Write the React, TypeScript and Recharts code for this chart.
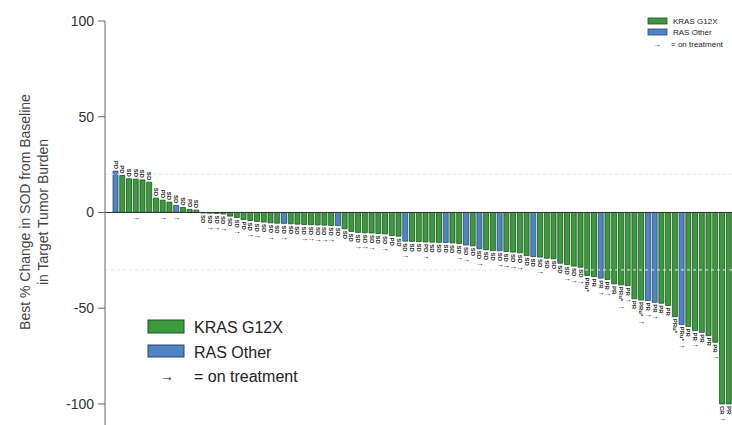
import { Bar, BarChart, Cell, LabelList, ReferenceLine, XAxis, YAxis } from 'recharts'

// best % change per patient, sorted (waterfall)
const changes = [
  21.6, 19.3, 17.6, 17.4, 17.0, 15.8, 7.5, 6.4, 5.4, 3.7, 2.6, 1.6, 1.2,
  -0.3, -0.4, -0.5, -0.8, -1.9, -2.6, -3.7, -4.2, -4.7, -5.0, -5.4, -5.6, -5.7,
  -5.9, -6.1, -6.3, -6.4, -6.5, -6.6, -6.8, -6.9, -8.5, -9.9, -10.4, -10.6,
  -10.7, -11.0, -11.2, -12.0, -12.4, -15.0, -15.1, -15.2, -15.4, -15.5, -15.6,
  -15.7, -15.9, -16.2, -17.0, -17.4, -19.0, -19.5, -19.9, -20.0, -20.4, -20.7,
  -21.1, -22.5, -23.0, -23.3, -23.9, -24.2, -26.5, -27.2, -28.0, -28.6, -32.9,
  -33.5, -34.3, -35.0, -37.3, -37.8, -38.2, -45.1, -45.7, -46.0, -46.9, -47.4,
  -48.6, -54.4, -58.5, -59.5, -61.7, -62.6, -64.3, -67.8, -100, -100,
]

// K = KRAS G12X, R = RAS Other
const groups =
  'RKKKKKKKKRKKKKKKKKKKKKKKKRKKKKKKKRKKKKKKKKKRKKKKKRKKRKRKKRKKKKRKKKKKKKKKRKKKKKKRRKKKRKKKKKKK'

const responses = [
  'PD', 'PD', 'SD', 'SD', 'SD', 'SD', 'SD', 'PD', 'SD', 'SD', 'SD', 'PD', 'SD',
  'SD', 'SD', 'SD', 'SD', 'SD', 'SD', 'PD', 'SD', 'SD', 'SD', 'SD', 'SD', 'SD',
  'SD', 'SD', 'SD', 'SD', 'SD', 'SD', 'SD', 'SD', 'SD', 'SD', 'SD', 'SD', 'SD',
  'SD', 'SD', 'PD', 'SD', 'SD', 'SD', 'SD', 'PD', 'SD', 'SD', 'SD', 'SD', 'SD',
  'SD', 'SD', 'SD', 'SD', 'SD', 'SD', 'SD', 'SD', 'SD', 'SD', 'SD', 'SD', 'SD',
  'SD', 'SD', 'SD', 'SD', 'SD', 'PRu*', 'PR', 'PR', 'PR', 'PR', 'PRu*', 'PR',
  'PR', 'PRu*', 'PR', 'PR', 'PR', 'PR', 'PRu*', 'PRu*', 'PR', 'PR', 'PR', 'PR',
  'PR', 'CR', 'PR',
]

// patients still on treatment (arrow)
const onTreatment = [
  3, 7, 9, 14, 15, 16, 18, 20, 21, 23, 25, 28, 29, 30, 31, 32, 36, 37, 38, 40,
  43, 46, 51, 52, 54, 57, 58, 59, 60, 63, 67, 68, 69, 72, 73, 75, 76, 78, 79,
  80, 84, 86, 89, 90,
]

const yTicks = [-100, -50, 0, 50, 100]

const GREEN = '#3b9a3e'
const GREEN_EDGE = '#1f5122'
const BLUE = '#5085c4'
const BLUE_EDGE = '#29476d'

const rows = changes.map((value, i) => ({
  id: i + 1,
  value,
  group: groups[i],
  tag: `${responses[i]}|${onTreatment.includes(i) ? 1 : 0}|${value < 0 ? 1 : 0}`,
}))

function Tag(props: any) {
  const { x, y, width, height, value } = props
  if (value == null) return null
  const [text, arrow, neg] = String(value).split('|')
  const cx = x + width / 2
  const top = Math.min(y, y + height)
  const bottom = Math.max(y, y + height)
  const style = { fontSize: 6, fontWeight: 700, fill: '#222', fontFamily: 'Liberation Sans, Arial, sans-serif' }
  const arrowStyle = { ...style, fontSize: 8, fontWeight: 400 }
  if (neg === '1') {
    const len = text.length * 3.6
    return (
      <g>
        <text transform={`translate(${cx},${bottom + 2}) rotate(90)`} textAnchor="start" dominantBaseline="central" style={style}>
          {text}
        </text>
        {arrow === '1' && (
          <text x={cx} y={bottom + len + 7} textAnchor="middle" dominantBaseline="central" style={arrowStyle}>
            →
          </text>
        )}
      </g>
    )
  }
  return (
    <g>
      <text transform={`translate(${cx},${top - 2}) rotate(90)`} textAnchor="end" dominantBaseline="central" style={style}>
        {text}
      </text>
      {arrow === '1' && (
        <text x={cx} y={bottom + 5} textAnchor="middle" dominantBaseline="central" style={arrowStyle}>
          →
        </text>
      )}
    </g>
  )
}

function AxisTitle() {
  const style = { fontSize: 14, fill: '#444', fontFamily: 'Liberation Sans, Arial, sans-serif' }
  return (
    <g>
      <text transform="translate(25,212) rotate(-90)" textAnchor="middle" dominantBaseline="central" style={style}>
        Best % Change in SOD from Baseline
      </text>
      <text transform="translate(43,212) rotate(-90)" textAnchor="middle" dominantBaseline="central" style={style}>
        in Target Tumor Burden
      </text>
    </g>
  )
}

export default function App() {
  return (
    <div
      style={{
        position: 'absolute',
        left: 0,
        top: 0,
        width: 732,
        height: 425,
        background: '#fff',
        fontFamily: 'Liberation Sans, Arial, sans-serif',
      }}
    >
      <BarChart
        width={732}
        height={425}
        data={rows}
        margin={{ top: 21, right: 0, bottom: 0, left: 0 }}
        barSize={5}
      >
        <XAxis dataKey="id" hide padding={{ left: 7, right: 0 }} />
        <YAxis
          domain={[-111, 100]}
          ticks={yTicks}
          width={105}
          tickSize={7}
          tickMargin={4}
          axisLine={{ stroke: '#666' }}
          tickLine={{ stroke: '#666' }}
          tick={{ fontSize: 14, fill: '#333' }}
          label={{ content: () => <AxisTitle /> }}
        />
        <ReferenceLine y={20} stroke="#e2e2e2" strokeDasharray="3 3" />
        <ReferenceLine y={-30} stroke="#e8e8e8" strokeDasharray="3 3" />
        <Bar dataKey="value" isAnimationActive={false} strokeWidth={0.8}>
          {rows.map((r) => (
            <Cell
              key={r.id}
              fill={r.group === 'R' ? BLUE : GREEN}
              stroke={r.group === 'R' ? BLUE_EDGE : GREEN_EDGE}
            />
          ))}
          <LabelList dataKey="tag" content={Tag} />
        </Bar>
        <ReferenceLine y={0} stroke="#333" />
      </BarChart>
      <svg
        width={732}
        height={425}
        style={{ position: 'absolute', left: 0, top: 0, pointerEvents: 'none' }}
      >
        <g style={{ fontSize: 8, fill: '#222' }}>
          <rect x={648} y={18} width={19} height={6} fill={GREEN} stroke={GREEN_EDGE} strokeWidth={0.8} />
          <text x={673} y={21.5} dominantBaseline="central">KRAS G12X</text>
          <rect x={648} y={29} width={19} height={6} fill={BLUE} stroke={BLUE_EDGE} strokeWidth={0.8} />
          <text x={673} y={32.5} dominantBaseline="central">RAS Other</text>
          <text x={657} y={44} textAnchor="middle" dominantBaseline="central">→</text>
          <text x={671} y={44} dominantBaseline="central">= on treatment</text>
        </g>
        <g style={{ fontSize: 16, fill: '#222' }}>
          <rect x={148} y={320} width={36} height={13} fill={GREEN} stroke={GREEN_EDGE} strokeWidth={1} />
          <text x={194} y={327} dominantBaseline="central">KRAS G12X</text>
          <rect x={148} y={345} width={36} height={12} fill={BLUE} stroke={BLUE_EDGE} strokeWidth={1} />
          <text x={194} y={352} dominantBaseline="central">RAS Other</text>
          <text x={167} y={376} textAnchor="middle" dominantBaseline="central" style={{ fontSize: 14 }}>→</text>
          <text x={194} y={376} dominantBaseline="central">= on treatment</text>
        </g>
      </svg>
    </div>
  )
}
